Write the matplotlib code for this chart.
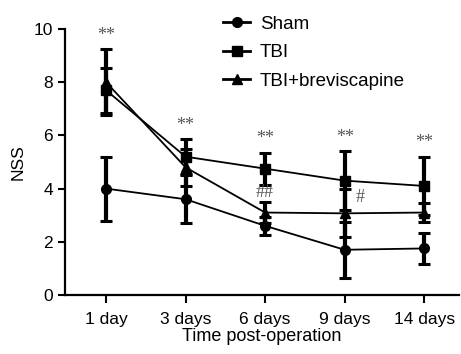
import matplotlib
matplotlib.use("Agg")
import matplotlib.pyplot as plt
from matplotlib.lines import Line2D
import numpy as np

plt.rcParams['font.family'] = ['Liberation Sans', 'DejaVu Sans']

days = ["1 day", "3 days", "6 days", "9 days", "14 days"]
sham = [4.0, 3.6, 2.6, 1.7, 1.75]
sham_err = [1.2, 0.9, 0.35, 1.05, 0.58]
tbi = [7.7, 5.2, 4.75, 4.3, 4.1]
tbi_err = [0.85, 0.65, 0.6, 1.1, 1.1]
brev = [8.0, 4.8, 3.1, 3.07, 3.1]
brev_err = [1.25, 0.7, 0.4, 0.9, 0.36]
star_labels = ["**", "**", "**", "**", "**"]

x = np.arange(len(days))

fig = plt.figure(figsize=(4.61, 3.54), dpi=100)
ax = fig.add_axes([0.141, 0.1667, 0.855, 0.7513])

series = [
    ("Sham", sham, sham_err, "o"),
    ("TBI", tbi, tbi_err, "s"),
    ("TBI+breviscapine", brev, brev_err, "^"),
]
handles = []
for name, vals, err, mk in series:
    ax.errorbar(x, vals, yerr=err, color="black", marker=mk, markersize=7,
                linewidth=1.3, elinewidth=3, capsize=4, capthick=2.2)
    handles.append(Line2D([], [], color="black", marker=mk, markersize=7,
                          linewidth=2, label=name))

# significance marks above the bars
for i in range(len(days)):
    top = max(tbi[i] + tbi_err[i], brev[i] + brev_err[i])
    ax.text(x[i], top + 0.2, star_labels[i], ha="center", va="bottom",
            fontsize=13, color="#555555", family="Liberation Serif")
ax.text(x[2], 3.85, "##", ha="center", va="center", fontsize=13,
        color="#555555", family="Liberation Serif")
ax.text(x[3] + 0.2, 3.65, "#", ha="center", va="center", fontsize=13,
        color="#555555", family="Liberation Serif")

ax.set_xlim(-0.516, 4.44)
ax.set_ylim(0, 10)
ax.set_yticks([0, 2, 4, 6, 8, 10])
ax.set_xticks(x)
ax.set_xticklabels(days)
ax.set_ylabel("NSS", fontsize=12.5, labelpad=6)
ax.set_xlabel("Time post-operation", fontsize=13, labelpad=1)
ax.tick_params(axis="both", labelsize=12.5, width=1.5, length=5, color="black")
ax.tick_params(axis="x", length=6, pad=6)
for s in ["top", "right"]:
    ax.spines[s].set_visible(False)
for s in ["left", "bottom"]:
    ax.spines[s].set_linewidth(1.6)

ax.legend(handles=handles, loc="upper left", bbox_to_anchor=(0.448, 1.003),
          bbox_transform=fig.transFigure, frameon=False, fontsize=13.5,
          handlelength=1.4, labelspacing=0.6, handletextpad=0.55)

fig.savefig("out.png", dpi=100)
